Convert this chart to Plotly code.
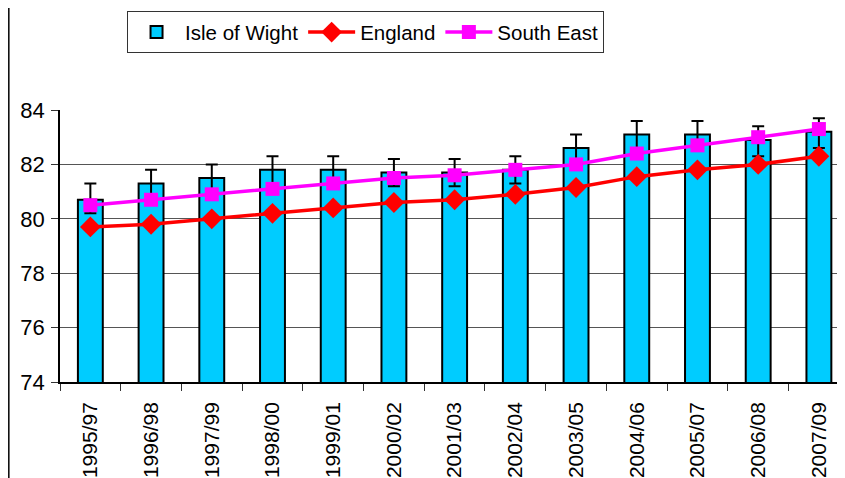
import plotly.graph_objects as go

periods = ["1995/97", "1996/98", "1997/99", "1998/00", "1999/01", "2000/02", "2001/03",
           "2002/04", "2003/05", "2004/06", "2005/07", "2006/08", "2007/09"]
isle_of_wight = [80.7, 81.3, 81.5, 81.8, 81.8, 81.7, 81.7, 81.8, 82.6, 83.1, 83.1, 82.9, 83.2]
iow_upper = [81.3, 81.8, 82.0, 82.3, 82.3, 82.2, 82.2, 82.3, 83.1, 83.6, 83.6, 83.4, 83.7]
iow_lower = [80.2, 80.8, 81.0, 81.3, 81.3, 81.2, 81.2, 81.3, 82.1, 82.6, 82.6, 82.3, 82.6]
england = [79.7, 79.8, 80.0, 80.2, 80.4, 80.6, 80.7, 80.9, 81.15, 81.55, 81.8, 82.0, 82.3]
south_east = [80.5, 80.7, 80.9, 81.1, 81.3, 81.5, 81.6, 81.8, 82.0, 82.4, 82.7, 83.0, 83.3]

err_plus = [u - v for u, v in zip(iow_upper, isle_of_wight)]
err_minus = [v - l for v, l in zip(isle_of_wight, iow_lower)]

FONT = "Liberation Sans, Arial, sans-serif"

fig = go.Figure()
fig.add_trace(go.Bar(
    x=periods, y=isle_of_wight, name="Isle of Wight",
    marker=dict(color="#00CCFF", line=dict(color="black", width=2)),
    error_y=dict(type="data", symmetric=False, array=err_plus, arrayminus=err_minus,
                 color="black", thickness=2, width=6),
))
fig.add_trace(go.Scatter(
    x=periods, y=england, name="England", mode="lines+markers",
    line=dict(color="#FF0000", width=3.5),
    marker=dict(symbol="diamond", size=16, color="#FF0000"),
))
fig.add_trace(go.Scatter(
    x=periods, y=south_east, name="South East", mode="lines+markers",
    line=dict(color="#FF00FF", width=3.5),
    marker=dict(symbol="square", size=14, color="#FF00FF"),
))

fig.update_layout(
    width=837, height=470,
    margin=dict(l=52, r=0, t=102, b=96, autoexpand=False),
    paper_bgcolor="white", plot_bgcolor="white",
    font=dict(family=FONT, size=21, color="black"),
    bargap=0.59,
    showlegend=True,
    legend=dict(orientation="h", x=0.0854, xanchor="left", y=1.363, yanchor="top",
                bordercolor="#333", borderwidth=1, bgcolor="white",
                font=dict(size=20.5, family=FONT), itemwidth=47,
                tracegroupgap=0),
    shapes=[dict(type="line", xref="paper", yref="paper",
                 x0=-0.0652, x1=-0.0652, y0=-0.4, y1=1.45,
                 line=dict(color="black", width=1.5))],
)
fig.update_xaxes(
    type="category", range=[-0.5, 12.43], automargin=False,
    tickangle=-90, tickson="boundaries", ticks="outside", ticklen=7,
    ticklabelstandoff=10,
    tickcolor="#333", showline=True, linecolor="black", linewidth=1.5,
    showgrid=False, tickfont=dict(size=21),
)
fig.update_yaxes(
    range=[74, 84], dtick=2, ticks="outside", ticklen=7, tickcolor="#333",
    automargin=False, ticklabelstandoff=2,
    showline=True, linecolor="black", linewidth=1.5,
    showgrid=True, gridcolor="#555", gridwidth=1, zeroline=False,
    tickfont=dict(size=22),
)

fig.write_html("out.html")
